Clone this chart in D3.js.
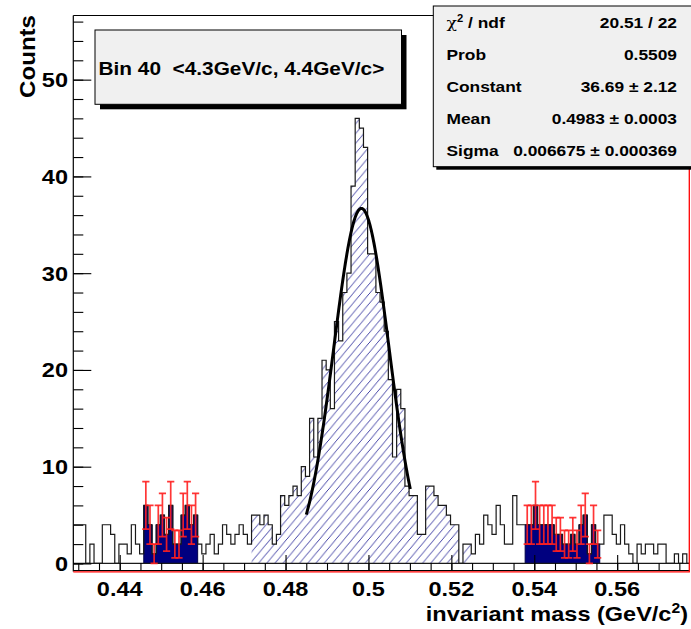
<!DOCTYPE html>
<html><head><meta charset="utf-8">
<script src="https://cdn.jsdelivr.net/npm/d3@7"></script>
<style>
html,body{margin:0;padding:0;background:#fff;}
svg{display:block;}
text{font-family:"Liberation Sans",Arial,Helvetica,sans-serif;font-weight:bold;fill:#000;}
</style></head><body>
<svg id="c" width="691" height="629"></svg>
<script>
// ---- histogram: invariant mass, 1 MeV bins ----
const binLow = 0.4288;
const binWidth = 0.001;
const counts = [
  4,4,4,0,2,0,0,4,4,3,0,2,2,1,4,2,1,
  6,4,1,4,5,3,6,2,2,5,6,4,5,
  2,1,2,3,1,2,4,3,2,3,4,3,2,
  5,5,4,5,4,2,3,7,6,7,8,7,10,9,15,11,15,21,20,16,25,23,28,30,39,46,45,43,32,32,28,27,24,19,11,18,16,8,7,7,3,3,8,8,7,6,6,5,4,4,0,2,2,
  1,3,2,5,4,3,6,4,2,2,7,4,4,
  4,4,6,4,4,4,4,3,3,2,2,3,2,4,5,1,4,2,
  2,5,5,3,2,4,2,1,0,2,1,2,2,1,2,2,0,0,1,0,1,0
];
// signal window (hatched) and side-band windows (filled, with errors)
const signalBand = [0.4718, 0.5248];
const sideBandLeft = [0.4458, 0.4588];
const sideBandRight = [0.5378, 0.5558];

// axis ranges and labels
const massRange = [0.4288, 0.5774];
const countRange = [-0.78, 56.63];
const xTickLabels = ["0.44", "0.46", "0.48", "0.5", "0.52", "0.54", "0.56"];
const yTickLabels = ["0", "10", "20", "30", "40", "50"];

// gaussian fit result
const fitConstant = 36.69;
const fitMean = 0.4983;
const fitSigma = 0.006675;
const fitRange = [0.4850, 0.5101];

const statLabels = ["ndf", "Prob", "Constant", "Mean", "Sigma"];
const statValues = ["20.51 / 22", "0.5509", "36.69 \u00b1 2.12", "0.4983 \u00b1 0.0003", "0.006675 \u00b1 0.000369"];
const binTitle = "Bin 40  <4.3GeV/c, 4.4GeV/c>";

// ---- drawing ----
const svg = d3.select("#c");
const frame = {l: 73.3, r: 689.3, t: 15.5, b: 571};
const x = d3.scaleLinear().domain(massRange).range([frame.l, frame.r]);
const y = d3.scaleLinear().domain(countRange).range([frame.b, frame.t]);
const SX = 1.12; // horizontal glyph stretch of the plotting font

function label(g, px, py, s, size, anchor) {
  const t = g.append("text")
    .attr("transform", `translate(${px},${py}) scale(${SX},1)`)
    .attr("text-anchor", anchor || "start")
    .style("font-size", size + "px");
  if (s != null) t.text(s);
  return t;
}

const defs = svg.append("defs");
defs.append("clipPath").attr("id", "fr").append("rect")
  .attr("x", frame.l).attr("y", frame.t).attr("width", frame.r - frame.l).attr("height", frame.b - frame.t);
const pw = 8.2, ph = 9.8;
const pat = defs.append("pattern").attr("id", "hatch").attr("patternUnits", "userSpaceOnUse")
  .attr("width", pw).attr("height", ph);
pat.append("path").attr("d", `M-1,${ph + ph / pw} L${pw + 1},${-ph / pw}`)
  .attr("stroke", "#2a2a9a").attr("stroke-width", 0.9).attr("fill", "none");

const bins = counts.map((c, i) => ({lo: binLow + i * binWidth, hi: binLow + (i + 1) * binWidth, c}));
const inBand = (b, band) => { const m = (b.lo + b.hi) / 2; return m > band[0] && m < band[1]; };

function stepArea(sel) {
  let d = `M${x(sel[0].lo)},${y(0)}`;
  sel.forEach(b => { d += `L${x(b.lo)},${y(b.c)}L${x(b.hi)},${y(b.c)}`; });
  d += `L${x(sel[sel.length - 1].hi)},${y(0)}Z`;
  return d;
}

const plot = svg.append("g").attr("clip-path", "url(#fr)");

// hatched signal region
plot.append("path").attr("d", stepArea(bins.filter(b => inBand(b, signalBand))))
  .attr("fill", "url(#hatch)").attr("stroke", "none");

// filled side bands
[sideBandLeft, sideBandRight].forEach(band => {
  plot.append("path").attr("d", stepArea(bins.filter(b => inBand(b, band))))
    .attr("fill", "#00007f").attr("stroke", "#00004a").attr("stroke-width", 1);
});

// full histogram outline
let od = `M${x(bins[0].lo)},${y(0)}`;
bins.forEach(b => { od += `L${x(b.lo)},${y(b.c)}L${x(b.hi)},${y(b.c)}`; });
od += `L${x(bins[bins.length - 1].hi)},${y(0)}`;
plot.append("path").attr("d", od).attr("fill", "none").attr("stroke", "#1a1a1a").attr("stroke-width", 1.2);
plot.append("line").attr("x1", frame.l).attr("x2", frame.r).attr("y1", y(0)).attr("y2", y(0))
  .attr("stroke", "#1a1a1a").attr("stroke-width", 1.2);

// statistical errors on the side bands
const eb = plot.append("g").attr("stroke", "#ff2020").attr("stroke-width", 1.7).attr("stroke-opacity", 0.9);
bins.filter(b => inBand(b, sideBandLeft) || inBand(b, sideBandRight)).forEach(b => {
  const cx = x((b.lo + b.hi) / 2), e = Math.sqrt(b.c);
  eb.append("line").attr("x1", cx).attr("x2", cx).attr("y1", y(b.c - e)).attr("y2", y(b.c + e));
  [b.c - e, b.c + e].forEach(v => eb.append("line").attr("x1", cx - 3.6).attr("x2", cx + 3.6).attr("y1", y(v)).attr("y2", y(v)));
});

// gaussian fit
const fx = d3.range(0, 201).map(i => fitRange[0] + (fitRange[1] - fitRange[0]) * i / 200);
const gauss = m => fitConstant * Math.exp(-0.5 * Math.pow((m - fitMean) / fitSigma, 2));
plot.append("path").datum(fx)
  .attr("d", d3.line().x(m => x(m)).y(m => y(gauss(m))).curve(d3.curveLinear))
  .attr("fill", "none").attr("stroke", "#000").attr("stroke-width", 3).attr("stroke-linejoin", "round");

// ---- frame and axes ----
const ax = svg.append("g").attr("stroke", "#000").attr("stroke-width", 1.2);
ax.append("line").attr("x1", frame.l).attr("x2", frame.l).attr("y1", frame.t).attr("y2", frame.b + 0.5);
ax.append("line").attr("x1", frame.l).attr("x2", frame.r).attr("y1", frame.t).attr("y2", frame.t);
ax.append("line").attr("x1", frame.l).attr("x2", frame.r).attr("y1", frame.b - 0.5).attr("y2", frame.b - 0.5);

// x ticks (pointing into the frame)
const xMajor = xTickLabels.map(Number);
const xMinor = d3.range(0, 30).map(i => 0.43 + i * 0.005).filter(v => v < massRange[1]);
svg.append("g").attr("transform", `translate(0,${frame.b})`)
  .call(d3.axisBottom(x).tickValues(xMinor).tickSize(-8).tickSizeOuter(0).tickFormat(""))
  .call(g => g.select(".domain").remove())
  .selectAll("line").attr("stroke", "#000").attr("stroke-width", 1.1);
svg.append("g").attr("transform", `translate(0,${frame.b})`)
  .call(d3.axisBottom(x).tickValues(xMajor).tickSize(-16).tickSizeOuter(0).tickFormat(""))
  .call(g => g.select(".domain").remove())
  .selectAll("line").attr("stroke", "#000").attr("stroke-width", 1.1);

// y ticks
const yMajor = yTickLabels.map(Number);
const yMinor = d3.range(0, 29).map(i => i * 2);
svg.append("g").attr("transform", `translate(${frame.l},0)`)
  .call(d3.axisLeft(y).tickValues(yMinor).tickSize(-10).tickSizeOuter(0).tickFormat(""))
  .call(g => g.select(".domain").remove())
  .selectAll("line").attr("stroke", "#000").attr("stroke-width", 1.1);
svg.append("g").attr("transform", `translate(${frame.l},0)`)
  .call(d3.axisLeft(y).tickValues(yMajor).tickSize(-18).tickSizeOuter(0).tickFormat(""))
  .call(g => g.select(".domain").remove())
  .selectAll("line").attr("stroke", "#000").attr("stroke-width", 1.1);

// red border on bottom and right
const rb = svg.append("g").attr("stroke", "#ff0000").attr("stroke-width", 1.3);
rb.append("line").attr("x1", frame.l).attr("x2", frame.r + 0.6).attr("y1", frame.b + 0.8).attr("y2", frame.b + 0.8);
rb.append("line").attr("x1", frame.r).attr("x2", frame.r).attr("y1", frame.t).attr("y2", frame.b + 0.8);

// tick labels
const tl = svg.append("g");
xTickLabels.forEach(s => label(tl, x(+s), 596, s, 21, "middle"));
yTickLabels.forEach(s => label(tl, 68, y(+s) + 7.5, s, 21, "end"));

// axis titles
label(svg, 688, 621, null, 21, "end")
  .call(t => { t.append("tspan").text("invariant mass (GeV/c");
               t.append("tspan").attr("dy", -8).style("font-size", "14px").text("2");
               t.append("tspan").attr("dy", 8).text(")"); });
svg.append("text").attr("transform", `translate(35,15) rotate(-90) scale(${SX},1)`)
  .attr("text-anchor", "end").style("font-size", "21.5px").text("Counts");

// ---- title box ----
const tb = {x: 95, y: 30, w: 306.5, h: 74.3};
svg.append("rect").attr("x", tb.x + 5).attr("y", tb.y + 5).attr("width", tb.w).attr("height", tb.h).attr("fill", "#000");
svg.append("rect").attr("x", tb.x).attr("y", tb.y).attr("width", tb.w).attr("height", tb.h)
  .attr("fill", "#f0f0f0").attr("stroke", "#000").attr("stroke-width", 1);
label(svg, 98.5, 74.5, binTitle, 18.6, "start").style("white-space", "pre").attr("xml:space", "preserve");

// ---- fit statistics box ----
const sb = {x: 433.3, y: 6, w: 262, h: 160.7};
svg.append("rect").attr("x", sb.x + 3).attr("y", sb.y + 3).attr("width", sb.w).attr("height", sb.h).attr("fill", "#000");
svg.append("rect").attr("x", sb.x).attr("y", sb.y).attr("width", sb.w).attr("height", sb.h)
  .attr("fill", "#f0f0f0").attr("stroke", "#000").attr("stroke-width", 1);
const rowH = sb.h / statLabels.length;
statLabels.forEach((s, i) => {
  const by = sb.y + rowH * (i + 0.5) + 5.6;
  if (i === 0) {
    const t = label(svg, 446.5, by, null, 15.5, "start");
    t.append("tspan").style("font-weight", "normal").style("font-family", "'DejaVu Serif',serif").text("\u03c7");
    t.append("tspan").attr("dy", -6).style("font-size", "10px").text("2");
    t.append("tspan").attr("dy", 6).text(" / " + s);
  } else {
    label(svg, 446.5, by, s, 15.5, "start");
  }
  label(svg, 677, by, statValues[i], 15.5, "end").style("white-space", "pre").attr("xml:space", "preserve");
});
</script>
</body></html>
